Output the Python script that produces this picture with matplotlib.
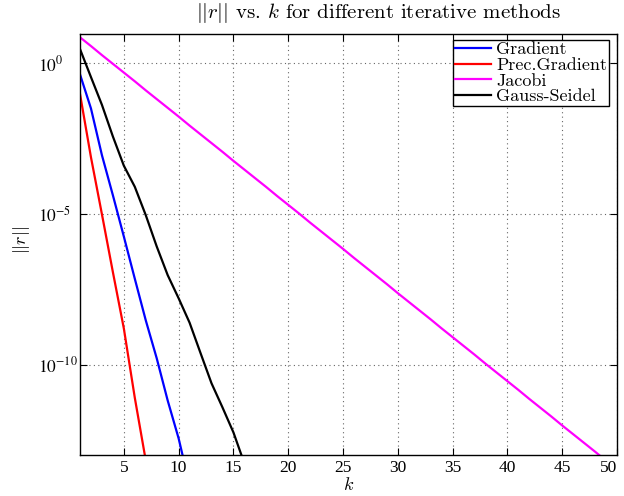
import numpy as np
import matplotlib
matplotlib.use("Agg")
import matplotlib.pyplot as plt
from matplotlib.font_manager import FontProperties

# log10 of ||r||, one value per iteration k = 1, 2, ...
grad_log = [-0.37, -1.50, -3.05, -4.38, -5.75, -7.15, -8.53, -9.79, -11.19, -12.45, -14.0]
prec_log = [-1.02, -3.12, -5.01, -6.93, -8.80, -11.10, -13.18]
jacobi_log = [0.86, 0.57, 0.27, -0.02, -0.31, -0.60, -0.90, -1.19, -1.48, -1.77,
              -2.07, -2.36, -2.65, -2.94, -3.24, -3.53, -3.82, -4.11, -4.41, -4.70,
              -4.99, -5.29, -5.58, -5.87, -6.16, -6.46, -6.75, -7.04, -7.33, -7.63,
              -7.92, -8.21, -8.50, -8.80, -9.09, -9.38, -9.67, -9.97, -10.26, -10.55,
              -10.84, -11.14, -11.43, -11.72, -12.02, -12.31, -12.60, -12.89, -13.19, -13.48]
gs_log = [0.47, -0.46, -1.38, -2.43, -3.40, -4.10, -5.04, -6.08, -7.03, -7.80,
          -8.61, -9.62, -10.62, -11.42, -12.25, -13.28]

labels = ["Gradient", "Prec.Gradient", "Jacobi", "Gauss-Seidel"]
colors = ["#0000ff", "#ff0000", "#ff00ff", "#000000"]
series = [grad_log, prec_log, jacobi_log, gs_log]

xticks = [5, 10, 15, 20, 25, 30, 35, 40, 45, 50]
yticks = [1e0, 1e-5, 1e-10]
ytick_labels = ["$10^{0}$", "$10^{-5}$", "$10^{-10}$"]

plt.rcParams["font.family"] = ["Liberation Serif", "DejaVu Serif"]
plt.rcParams["mathtext.fontset"] = "stix"

W, H = 624, 496
fig = plt.figure(figsize=(W / 100, H / 100), dpi=100)
ax = fig.add_axes([80 / W, 1 - 455 / H, (617 - 80) / W, (455 - 34) / H])

for vals, lab, c in zip(series, labels, colors):
    k = np.arange(1, len(vals) + 1)
    ax.semilogy(k, 10.0 ** np.array(vals), color=c, lw=1.6, label=lab)

ax.set_xlim(1, 50)
ax.set_ylim(10 ** -13.0, 10 ** 0.97)
ax.set_xticks(xticks)
ax.set_yticks(yticks)
ax.set_yticklabels(ytick_labels)
ax.minorticks_off()
ax.grid(True, linestyle=(0, (1, 3)), color="#666666", lw=0.8)
ax.tick_params(direction="in", top=True, right=True, length=5, width=0.8,
               labelsize=12.5)
ax.tick_params(axis="y", pad=30)
for t in ax.get_yticklabels():
    t.set_horizontalalignment("left")
xl = ax.get_xticklabels()
xl[-1].set_horizontalalignment("right")
for sp in ax.spines.values():
    sp.set_linewidth(1.0)

cm_font = FontProperties(family="cmr10", size=13, math_fontfamily="cm")
leg = ax.legend(prop=cm_font, loc="upper right", bbox_to_anchor=(609 / W, 1 - 40 / H),
                bbox_transform=fig.transFigure, frameon=True, fancybox=False,
                handlelength=2.0, handletextpad=0.3, labelspacing=0.0,
                borderpad=0.1, borderaxespad=0)
leg.get_frame().set_edgecolor("black")
leg.get_frame().set_linewidth(1.0)
leg.get_frame().set_alpha(1)

fig.text(378 / W, 1 - 13 / H, r"$||r||$ vs. $k$ for different iterative methods",
         ha="center", va="center", fontsize=15, family="cmr10", math_fontfamily="cm")
ax.set_ylabel("$||r||$", fontsize=13, math_fontfamily="cm")
ax.yaxis.set_label_coords(-0.089, 0.51)
ax.set_xlabel("$k$", fontsize=13, math_fontfamily="cm")
ax.xaxis.set_label_coords(0.5, -0.052)

fig.savefig("out.png", dpi=100)
